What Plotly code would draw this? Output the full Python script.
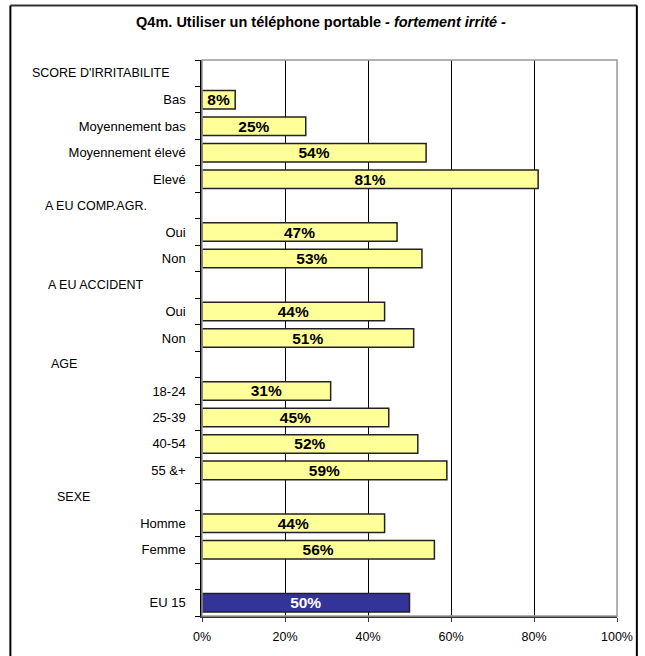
import plotly.graph_objects as go

# Data
labels = ["SCORE D'IRRITABILITE", "Bas", "Moyennement bas", "Moyennement élevé", "Elevé",
          "A EU COMP.AGR.", "Oui", "Non",
          "A EU ACCIDENT", "Oui", "Non",
          "AGE", "18-24", "25-39", "40-54", "55 &+",
          "SEXE", "Homme", "Femme",
          "", "EU 15"]
is_header = [True, False, False, False, False,
             True, False, False,
             True, False, False,
             True, False, False, False, False,
             True, False, False,
             True, False]
values = [None, 8, 25, 54, 81,
          None, 47, 53,
          None, 44, 51,
          None, 31, 45, 52, 59,
          None, 44, 56,
          None, 50]
total_index = 20
x_ticks = [0, 20, 40, 60, 80, 100]
x_tick_labels = ["0%", "20%", "40%", "60%", "80%", "100%"]

FONT = "Liberation Sans, Arial, sans-serif"
W, H = 645, 656
L, R, T, B = 202, 25, 60, 34
pw = W - L - R
ph = H - T - B

idx = list(range(len(labels)))
grp_y = [i for i in idx if values[i] is not None and i != total_index]
grp_x = [values[i] for i in grp_y]

fig = go.Figure()
fig.add_trace(go.Bar(
    y=grp_y, x=grp_x, orientation="h", width=0.7,
    marker=dict(color="#FFFF99", line=dict(color="#222222", width=1.5)),
    text=[f"{v}%" for v in grp_x], textposition="inside", insidetextanchor="middle",
    constraintext="none",
    textfont=dict(family=FONT, size=15.5, color="black", weight="bold"),
    hoverinfo="skip",
))
fig.add_trace(go.Bar(
    y=[total_index], x=[values[total_index]], orientation="h", width=0.7,
    marker=dict(color="#333399", line=dict(color="#222222", width=1.5)),
    text=[f"{values[total_index]}%"], textposition="inside", insidetextanchor="middle",
    constraintext="none",
    textfont=dict(family=FONT, size=15.5, color="white", weight="bold"),
    hoverinfo="skip",
))

tickvals = [i for i in idx if not is_header[i]]
ticktext = [labels[i] for i in tickvals]

# header label pixel left positions
header_px = {0: 29, 5: 42, 8: 45, 11: 48, 16: 54}
annotations = []
for i, px in header_px.items():
    annotations.append(dict(
        x=(px - L) / pw, xref="paper", y=i, yref="y",
        text=labels[i], showarrow=False, xanchor="left", yanchor="middle",
        font=dict(family=FONT, size=12.5, color="black"),
    ))

fx0, fx1 = (9 - L) / pw, (640 - L) / pw
fy_top = 1 + (T - 5) / ph
fy_bot = -(665 - (H - B)) / ph
shapes = [
    # plot-area gray border (top/right)
    dict(type="rect", xref="paper", yref="paper", x0=0, x1=1, y0=0, y1=1,
         line=dict(color="#999999", width=1.5), layer="above"),
    # outer frame as separate lines
    dict(type="line", xref="paper", yref="paper", x0=fx0, x1=fx1, y0=fy_top, y1=fy_top,
         line=dict(color="#333333", width=2), layer="above"),
    dict(type="line", xref="paper", yref="paper", x0=fx0, x1=fx0, y0=fy_bot, y1=fy_top,
         line=dict(color="black", width=2), layer="above"),
    dict(type="line", xref="paper", yref="paper", x0=fx1, x1=fx1, y0=fy_bot, y1=fy_top,
         line=dict(color="black", width=2), layer="above"),
]

fig.update_layout(
    width=W, height=H,
    margin=dict(l=L, r=R, t=T, b=B),
    paper_bgcolor="white", plot_bgcolor="white",
    showlegend=False, barmode="overlay",
    title=dict(
        text="Q4m. Utiliser un téléphone portable <i>- fortement irrité -</i>",
        x=321 / W, xanchor="center", y=1 - 22 / H, yanchor="middle", yref="container",
        font=dict(family=FONT, size=14.5, color="black", weight="bold"),
    ),
    xaxis=dict(
        range=[0, 100], tickvals=x_ticks, ticktext=x_tick_labels,
        showgrid=True, gridcolor="black", gridwidth=1,
        showline=True, linecolor="#333333", linewidth=1.5,
        ticks="outside", ticklen=4, tickcolor="#333333",
        tickfont=dict(family=FONT, size=12.5, color="black"),
        ticklabelstandoff=4,
        zeroline=False, fixedrange=True,
    ),
    yaxis=dict(
        range=[len(labels) - 0.5, -0.5],
        tickvals=tickvals, ticktext=ticktext,
        ticks="", showgrid=False, zeroline=False,
        showline=True, linecolor="black", linewidth=1.5,
        tickfont=dict(family=FONT, size=13, color="black"),
        ticklabelstandoff=12,
        minor=dict(tickvals=[i + 0.5 for i in range(-1, len(labels))],
                   ticks="outside", ticklen=5, tickcolor="black", showgrid=False),
        fixedrange=True,
    ),
    annotations=annotations,
    shapes=shapes,
)

fig.write_html("out.html", config={"displayModeBar": False},
               post_script="document.body.style.margin='0';document.body.style.overflow='hidden';")
